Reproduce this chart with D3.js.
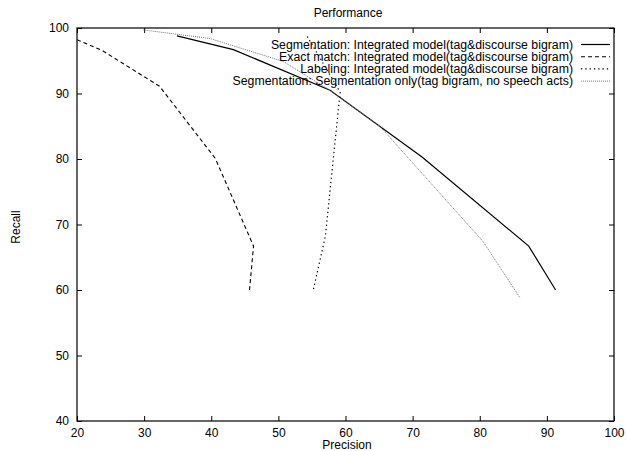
<!DOCTYPE html>
<html>
<head>
<meta charset="utf-8">
<script src="https://cdn.jsdelivr.net/npm/d3@7"></script>
<style>
  body { margin: 0; background: #fff; }
  svg text { font-family: "Liberation Sans", Arial, Helvetica, sans-serif; font-size: 12px; fill: #000; }
</style>
</head>
<body>
<svg id="chart" width="627" height="451"></svg>
<script>
// values: [precision, recall]
const segIntegrated = [[34.9, 98.8], [43.3, 96.7], [57.7, 90.5], [71.4, 80.3], [87.3, 66.7], [91.3, 60.0]];
const exactMatch = [[20.0, 98.2], [23.7, 96.6], [32.3, 91.1], [40.6, 80.1], [46.3, 66.7], [45.7, 60.0]];
const labeling = [[54.3, 98.7], [59.2, 90.2], [57.0, 68.2], [55.2, 60.0]];
const segOnly = [[29.9, 99.7], [39.8, 98.4], [50.7, 94.9], [58.0, 90.3], [65.2, 84.9], [80.5, 67.4], [86.0, 58.8]];

const seriesNames = [
    "Segmentation: Integrated model(tag&discourse bigram)",
    "Exact match: Integrated model(tag&discourse bigram)",
    "Labeling: Integrated model(tag&discourse bigram)",
    "Segmentation: Segmentation only(tag bigram, no speech acts)"
];
const xTicks = [20, 30, 40, 50, 60, 70, 80, 90, 100];
const yTicks = [40, 50, 60, 70, 80, 90, 100];

const styles = [
    { stroke: "#000", dash: null, width: 1.2 },
    { stroke: "#000", dash: "4,3", width: 1.1 },
    { stroke: "#000", dash: "1.3,3", width: 1.2 },
    { stroke: "#777", dash: "1,1", width: 1 }
];

const svg = d3.select("#chart");
const plot = { left: 77, right: 614, top: 28, bottom: 421 };

const x = d3.scaleLinear().domain([20, 100]).range([plot.left, plot.right]);
const y = d3.scaleLinear().domain([40, 100]).range([plot.bottom, plot.top]);

// axes, ticks pointing inward like gnuplot
svg.append("g")
    .attr("transform", "translate(0," + plot.bottom + ")")
    .call(d3.axisBottom(x).tickValues(xTicks).tickSize(-5).tickPadding(7))
    .call(g => g.select(".domain").remove());
svg.append("g")
    .attr("transform", "translate(0," + plot.top + ")")
    .call(d3.axisTop(x).tickValues(xTicks).tickSize(-5).tickFormat(""))
    .call(g => g.select(".domain").remove());
svg.append("g")
    .attr("transform", "translate(" + plot.left + ",0)")
    .call(d3.axisLeft(y).tickValues(yTicks).tickSize(-5).tickPadding(8))
    .call(g => g.select(".domain").remove());
svg.append("g")
    .attr("transform", "translate(" + plot.right + ",0)")
    .call(d3.axisRight(y).tickValues(yTicks).tickSize(-5).tickFormat(""))
    .call(g => g.select(".domain").remove());

svg.selectAll(".tick text").attr("font-size", 12).attr("font-family", null);

svg.append("rect")
    .attr("x", plot.left).attr("y", plot.top)
    .attr("width", plot.right - plot.left).attr("height", plot.bottom - plot.top)
    .attr("fill", "none").attr("stroke", "#000").attr("stroke-width", 1.2);

// titles
svg.append("text").attr("x", 348).attr("y", 17).attr("text-anchor", "middle").text("Performance");
svg.append("text").attr("x", 347).attr("y", 449).attr("text-anchor", "middle").text("Precision");
svg.append("text")
    .attr("transform", "translate(20,227) rotate(-90)")
    .attr("text-anchor", "middle")
    .text("Recall");

// curves
const line = d3.line().x(d => x(d[0])).y(d => y(d[1]));
const allSeries = [segIntegrated, exactMatch, labeling, segOnly];

svg.append("g").selectAll("path")
    .data(allSeries)
    .join("path")
    .attr("d", line)
    .attr("fill", "none")
    .attr("stroke", (d, i) => styles[i].stroke)
    .attr("stroke-width", (d, i) => styles[i].width)
    .attr("stroke-dasharray", (d, i) => styles[i].dash);

// legend
const legend = svg.append("g").selectAll("g")
    .data(seriesNames)
    .join("g")
    .attr("transform", (d, i) => "translate(0," + (48.5 + i * 12.2) + ")");

legend.append("text")
    .attr("x", 573)
    .attr("text-anchor", "end")
    .style("font-size", "12.3px")
    .text(d => d);

legend.append("line")
    .attr("x1", 581).attr("x2", 610)
    .attr("y1", -4).attr("y2", -4)
    .attr("stroke", (d, i) => styles[i].stroke)
    .attr("stroke-width", (d, i) => styles[i].width)
    .attr("stroke-dasharray", (d, i) => styles[i].dash);
</script>
</body>
</html>
